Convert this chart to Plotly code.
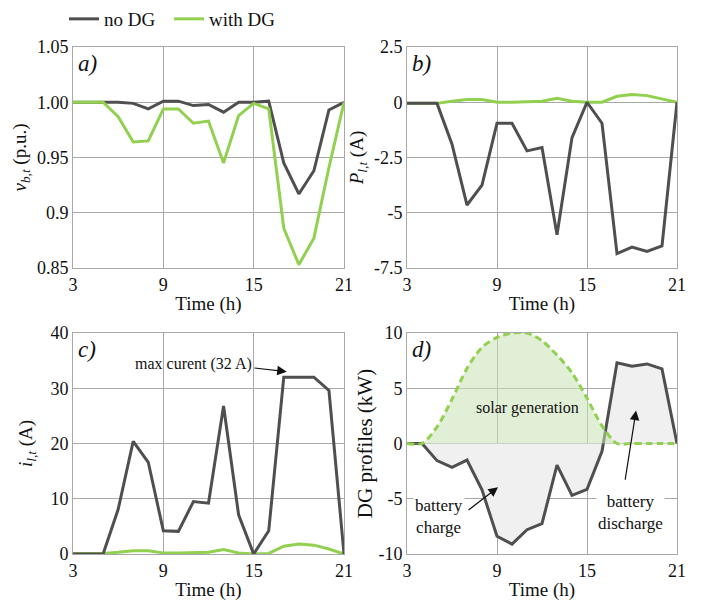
import plotly.graph_objects as go

hours = list(range(3, 22))

# a) bus voltage (p.u.)
volt_no_dg = [1.000, 1.000, 1.000, 1.000, 0.999, 0.994, 1.001, 1.001, 0.997, 0.998,
              0.991, 1.000, 1.000, 1.001, 0.945, 0.917, 0.938, 0.993, 1.000]
volt_dg = [1.000, 1.000, 1.000, 0.987, 0.964, 0.965, 0.994, 0.994, 0.981, 0.983,
           0.945, 0.988, 0.999, 0.994, 0.886, 0.853, 0.877, 0.941, 1.000]

# b) line power
pow_no_dg = [-0.05, -0.05, -0.05, -1.9, -4.65, -3.75, -0.95, -0.95, -2.2, -2.05,
             -6.0, -1.6, 0.0, -0.95, -6.85, -6.55, -6.75, -6.5, 0.0]
pow_dg = [-0.05, -0.05, -0.05, 0.05, 0.12, 0.12, 0.0, 0.0, 0.03, 0.05,
          0.18, 0.05, 0.0, 0.0, 0.27, 0.35, 0.3, 0.15, 0.0]

# c) line current (A)
cur_no_dg = [0, 0, 0, 8.1, 20.4, 16.6, 4.2, 4.1, 9.5, 9.2,
             26.8, 7.1, 0, 4.2, 32, 32, 32, 29.6, 0]
cur_dg = [0.1, 0.1, 0.1, 0.3, 0.6, 0.6, 0.2, 0.2, 0.3, 0.3,
          0.8, 0.2, 0.0, 0.1, 1.4, 1.8, 1.6, 0.9, 0.0]

# d) DG profiles (kW)
battery = [0, 0, -1.55, -2.15, -1.5, -4.2, -8.4, -9.1, -7.8, -7.25,
           -1.95, -4.7, -4.15, -0.7, 7.3, 7.0, 7.2, 6.75, 0]
solar = [0, 0, 1.5, 4.0, 6.8, 8.7, 9.6, 10.0, 10.0, 9.3,
         8.0, 6.4, 4.1, 1.6, 0, 0, 0, 0, 0]

x_ticks = [3, 9, 15, 21]
a_ticks = [0.85, 0.9, 0.95, 1.00, 1.05]
a_labels = ["0.85", "0.9", "0.95", "1.00", "1.05"]
b_ticks = [-7.5, -5, -2.5, 0, 2.5]
b_labels = ["-7.5", "-5", "-2.5", "0", "2.5"]
c_ticks = [0, 10, 20, 30, 40]
d_ticks = [-10, -5, 0, 5, 10]

GRAY = "#4f4f4f"
GREEN = "#92d050"
GRID = "#a8a8a8"
FONT = '"Liberation Serif", "DejaVu Serif", serif'
TICK = 18

fig = go.Figure()

# panel a
fig.add_trace(go.Scatter(x=hours, y=volt_no_dg, mode="lines", name="no DG",
                         line=dict(color=GRAY, width=3), xaxis="x", yaxis="y"))
fig.add_trace(go.Scatter(x=hours, y=volt_dg, mode="lines", name="with DG",
                         line=dict(color=GREEN, width=3), xaxis="x", yaxis="y"))
# panel b
fig.add_trace(go.Scatter(x=hours, y=pow_dg, mode="lines", showlegend=False,
                         line=dict(color=GREEN, width=3), xaxis="x2", yaxis="y2"))
fig.add_trace(go.Scatter(x=hours, y=pow_no_dg, mode="lines", showlegend=False,
                         line=dict(color=GRAY, width=3), xaxis="x2", yaxis="y2"))
# panel c
fig.add_trace(go.Scatter(x=hours, y=cur_dg, mode="lines", showlegend=False,
                         line=dict(color=GREEN, width=3), xaxis="x3", yaxis="y3"))
fig.add_trace(go.Scatter(x=hours, y=cur_no_dg, mode="lines", showlegend=False,
                         line=dict(color=GRAY, width=3), xaxis="x3", yaxis="y3"))
# panel d
fig.add_trace(go.Scatter(x=hours, y=battery, mode="lines", showlegend=False,
                         fill="tozeroy", fillcolor="#f0f0f0",
                         line=dict(color=GRAY, width=3), xaxis="x4", yaxis="y4"))
fig.add_trace(go.Scatter(x=hours, y=solar, mode="lines", showlegend=False,
                         fill="tozeroy", fillcolor="rgba(200,225,180,0.55)",
                         line=dict(color=GREEN, width=3, dash="7px,4px", shape="spline", smoothing=0.8),
                         xaxis="x4", yaxis="y4"))

xl, xr = [73 / 707, 344 / 707], [407 / 707, 677 / 707]
yt, yb = [1 - 268 / 601, 1 - 47 / 601], [1 - 554 / 601, 1 - 333 / 601]

def xax(dom, anchor):
    return dict(domain=dom, anchor=anchor, range=[3, 21], tickvals=x_ticks,
                showgrid=True, gridcolor=GRID, gridwidth=1, zeroline=False,
                showline=True, linecolor=GRID, linewidth=1, mirror=True,
                ticks="", ticklen=0, automargin=False,
                tickfont=dict(family=FONT, size=TICK, color="#111"),
                title=dict(text="Time (h)", font=dict(family=FONT, size=19, color="#111"), standoff=3))

def yax(dom, anchor, rng, vals, labels, title, size=19, standoff=8):
    return dict(domain=dom, anchor=anchor, range=rng, tickvals=vals, ticktext=labels,
                showgrid=True, gridcolor=GRID, gridwidth=1, zeroline=False,
                showline=True, linecolor=GRID, linewidth=1, mirror=True,
                ticks="", ticklen=0, automargin=False,
                tickfont=dict(family=FONT, size=TICK, color="#111"),
                title=dict(text=title, font=dict(family=FONT, size=size, color="#111"), standoff=standoff))

fig.update_layout(
    width=707, height=601,
    margin=dict(l=0, r=0, t=0, b=0),
    paper_bgcolor="white", plot_bgcolor="white",
    font=dict(family=FONT, size=19, color="#111"),
    xaxis=xax(xl, "y"),
    yaxis=yax(yt, "x", [0.85, 1.05], a_ticks, a_labels, "<i>v</i><sub><i>b,t</i></sub> (p.u.)", standoff=5),
    xaxis2=xax(xr, "y2"),
    yaxis2=yax(yt, "x2", [-7.5, 2.5], b_ticks, b_labels, "<i>P</i><sub><i>l,t</i></sub> (A)", standoff=5),
    xaxis3=xax(xl, "y3"),
    yaxis3=yax(yb, "x3", [0, 40], c_ticks, [str(v) for v in c_ticks], "<i>i</i><sub><i>l,t</i></sub> (A)", standoff=12),
    xaxis4=xax(xr, "y4"),
    yaxis4=yax(yb, "x4", [-10, 10], d_ticks, [str(v) for v in d_ticks], "DG profiles (kW)", size=21, standoff=0),
    legend=dict(orientation="h", x=64 / 707, y=1.0, xanchor="left", yanchor="top",
                entrywidth=60, entrywidthmode="pixels",
                font=dict(family=FONT, size=19, color="#111"), bgcolor="rgba(0,0,0,0)"),
)

ann = []
for ref, lab in [("", "a)"), ("2", "b)"), ("3", "c)"), ("4", "d)")]:
    ann.append(dict(xref=f"x{ref} domain", yref=f"y{ref} domain", x=0.012, y=0.99,
                    xanchor="left", yanchor="top", text=f"<i>{lab}</i>", showarrow=False,
                    font=dict(family=FONT, size=23, color="#111")))

tf = dict(family=FONT, size=16, color="#111")
ann += [
    dict(xref="x3", yref="y3", x=11.0, y=34.3, text="max curent (32 A)", showarrow=False, font=tf),
    dict(xref="x3", yref="y3", x=17.2, y=33.0, ax=14.95, ay=33.7, axref="x3", ayref="y3",
         text="", showarrow=True, arrowhead=2, arrowsize=1.6, arrowwidth=1.2, arrowcolor="#111"),
    dict(xref="x4", yref="y4", x=11.0, y=3.2, text="solar generation", showarrow=False, font=tf),
    dict(xref="x4", yref="y4", x=5.1, y=-6.6, text="battery<br>charge", showarrow=False,
         font=dict(family=FONT, size=17, color="#111"), bgcolor="white"),
    dict(xref="x4", yref="y4", x=17.9, y=-6.2, text="battery<br>discharge", showarrow=False,
         font=dict(family=FONT, size=17, color="#111"), bgcolor="white"),
    dict(xref="x4", yref="y4", x=9.07, y=-3.95, ax=7.0, ay=-6.13, axref="x4", ayref="y4",
         text="", showarrow=True, arrowhead=2, arrowsize=1.6, arrowwidth=1.2, arrowcolor="#111"),
    dict(xref="x4", yref="y4", x=18.27, y=2.98, ax=17.53, ay=-3.4, axref="x4", ayref="y4",
         text="", showarrow=True, arrowhead=2, arrowsize=1.6, arrowwidth=1.2, arrowcolor="#111"),
]
fig.update_layout(annotations=ann)

fig.write_html("out.html")
